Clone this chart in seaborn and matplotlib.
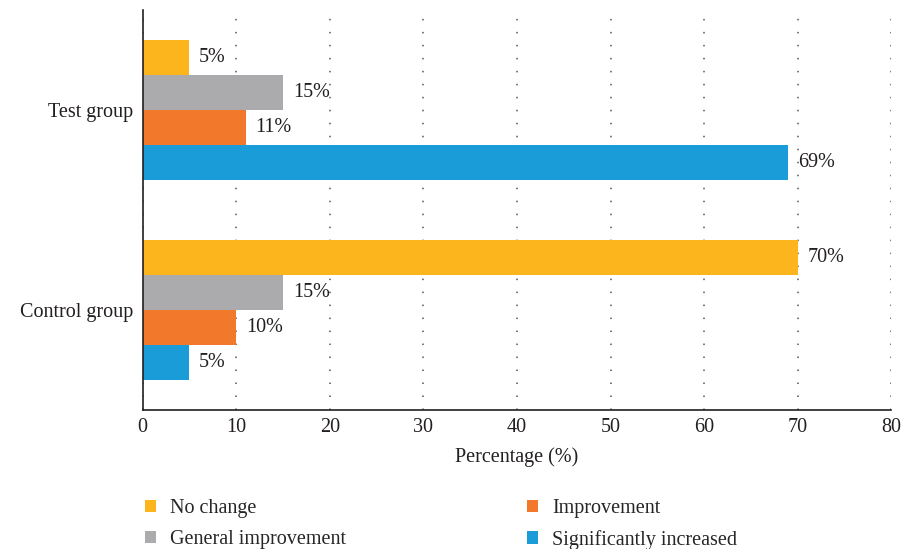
import pandas as pd
import seaborn as sns
import matplotlib
matplotlib.use("Agg")
import matplotlib.pyplot as plt

# data
groups = ["Test group", "Control group"]
categories = ["No change", "General improvement", "Improvement", "Significantly increased"]
test_values = [5, 15, 11, 69]
control_values = [70, 15, 10, 5]
colors = ["#FDB51E", "#ABABAD", "#F2792B", "#1A9CD8"]

rows = []
for cat, t, c in zip(categories, test_values, control_values):
    rows.append({"group": groups[0], "category": cat, "value": t})
    rows.append({"group": groups[1], "category": cat, "value": c})
df = pd.DataFrame(rows)

sns.set_style("white")
plt.rcParams["font.family"] = ["Liberation Serif", "DejaVu Serif"]
fs = 14.5
txt = "#231f20"

fig, ax = plt.subplots(figsize=(9.03, 5.49), dpi=100)
fig.subplots_adjust(left=0.158, right=0.987, top=0.982, bottom=0.253)

sns.barplot(data=df, y="group", x="value", hue="category", order=groups,
            hue_order=categories, palette=colors, orient="h", width=0.7,
            saturation=1, linewidth=0, edgecolor="none", ax=ax)

for cont in ax.containers:
    ax.bar_label(cont, labels=[f"{v:g}%" for v in cont.datavalues],
                 padding=7, fontsize=fs, color=txt)

ax.set_xlim(0, 80)
ax.set_ylim(1.5, -0.5)
ax.set_xticks(range(0, 81, 10))
ax.xaxis.grid(True, linestyle=(0, (1, 7.5)), color="#555555", linewidth=1.1)
ax.yaxis.grid(False)
ax.set_axisbelow(True)
for s in ["top", "right"]:
    ax.spines[s].set_visible(False)
for s in ["left", "bottom"]:
    ax.spines[s].set_color(txt)
    ax.spines[s].set_linewidth(1.2)
ax.tick_params(axis="x", direction="in", length=3, colors=txt, labelsize=fs, pad=6)
ax.tick_params(axis="y", length=0, labelsize=fs, pad=7, colors=txt)
ax.set_ylabel("")
ax.set_xlabel("Percentage (%)", fontsize=fs, labelpad=7, color=txt)

handles, labels = ax.get_legend_handles_labels()
ax.legend(handles, labels, ncol=2, loc="upper left", bbox_to_anchor=(-0.011, -0.197),
          frameon=False, borderpad=0, handlelength=0.55, handleheight=0.55,
          handletextpad=0.7, columnspacing=9.0, labelspacing=0.58, fontsize=fs)

fig.savefig("out.png", dpi=100)
